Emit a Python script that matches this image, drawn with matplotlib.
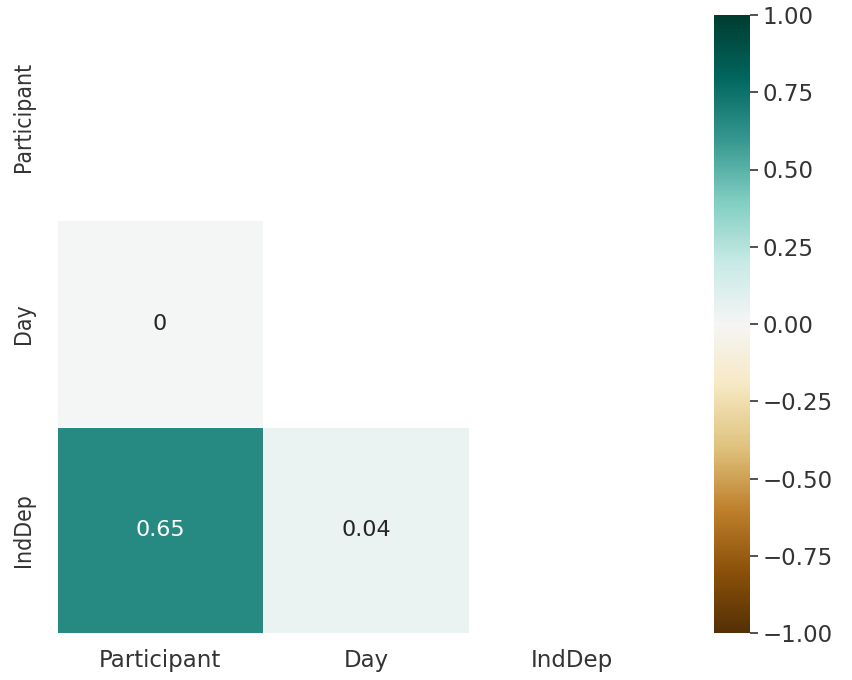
import matplotlib
matplotlib.use("Agg")
import matplotlib.pyplot as plt
import numpy as np
import seaborn as sns

labels = ["Participant", "Day", "IndDep"]
corr = np.array([
    [1.00, 0.00, 0.65],
    [0.00, 1.00, 0.04],
    [0.65, 0.04, 1.00],
])
cbar_ticks = [-1.00, -0.75, -0.50, -0.25, 0.00, 0.25, 0.50, 0.75, 1.00]

sns.set_style("white")
plt.rcParams['font.family'] = ['DejaVu Sans']
plt.rcParams['font.size'] = 16.5

mask = np.triu(np.ones_like(corr, dtype=bool))

fig = plt.figure(figsize=(8.52, 6.8), dpi=100)
ax = fig.add_axes([57 / 852, 47 / 680, 618 / 852, 619 / 680])
cax = fig.add_axes([714 / 852, 47 / 680, 36 / 852, 618 / 680])

sns.heatmap(corr, mask=mask, annot=True, cmap="BrBG", vmin=-1, vmax=1,
            linewidths=0.7, linecolor="white", ax=ax, cbar_ax=cax,
            xticklabels=labels, yticklabels=labels,
            annot_kws={"fontsize": 16},
            cbar_kws={"ticks": cbar_ticks})

ax.tick_params(axis="x", labelsize=16.5, pad=8, colors=".2")
ax.tick_params(axis="y", labelsize=16.5, pad=12, colors=".2")
plt.setp(ax.get_yticklabels(), rotation=90, va="center", fontstretch="condensed")
plt.setp(ax.get_xticklabels(), rotation=0)

cax.tick_params(labelsize=16.5, length=6, width=1.2, colors=".2", pad=3)
cax.set_yticklabels([("%.2f" % t).replace("-", "\u2212") for t in cbar_ticks])
cax.yaxis.set_tick_params(right=True)

fig.savefig("out.png", dpi=100)
